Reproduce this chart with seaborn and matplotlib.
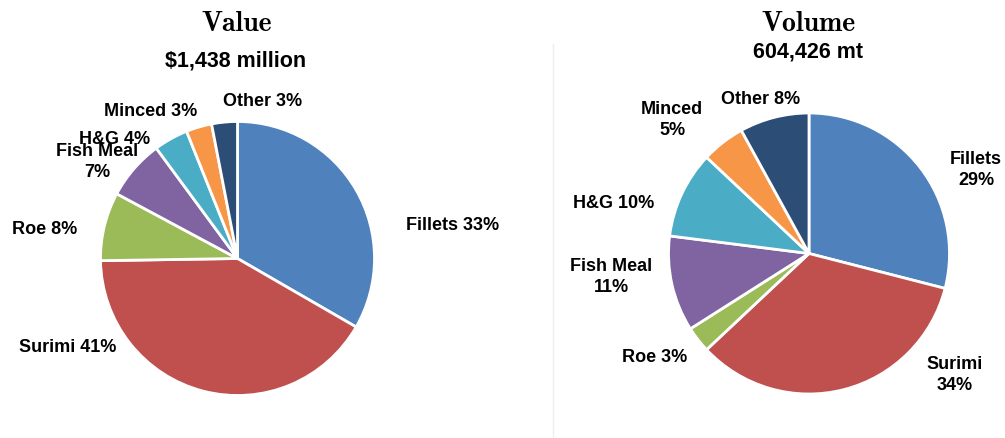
import os
import matplotlib
matplotlib.use("Agg")
import matplotlib.pyplot as plt
from matplotlib.font_manager import FontProperties
import seaborn as sns

# Product shares of the fishery, by first-wholesale value and by volume
categories = ["Fillets", "Surimi", "Roe", "Fish Meal", "H&G", "Minced", "Other"]
value_share = [33, 41, 8, 7, 4, 3, 3]
volume_share = [29, 34, 3, 11, 10, 5, 8]

value_total = "$1,438 million"
volume_total = "604,426 mt"

sns.set_theme(style="white")
plt.rcParams["font.family"] = ["Liberation Sans", "DejaVu Sans"]
plt.rcParams["text.color"] = "black"

palette = sns.color_palette(["#4F81BD", "#C0504D", "#9BBB59", "#8064A2",
                             "#4BACC6", "#F79646", "#2C4D75"])

title_font = FontProperties(
    fname=os.path.join(matplotlib.get_data_path(), "fonts", "ttf", "cmb10.ttf"),
    size=20)

W, H = 1005, 438
fig = plt.figure(figsize=(W / 100, H / 100), dpi=100)
ax = fig.add_axes([0, 0, 1, 1])

wedge_style = dict(edgecolor="white", linewidth=2)

# y axis runs downward, so counterclock=True draws clockwise from 12 o'clock
ax.pie(value_share, colors=palette, center=(237.5, 258.5), radius=137,
       startangle=270, counterclock=True, wedgeprops=wedge_style)
ax.pie(volume_share, colors=palette, center=(809, 253.5), radius=140.5,
       startangle=270, counterclock=True, wedgeprops=wedge_style)

ax.set_xlim(0, W)
ax.set_ylim(H, 0)
ax.set_aspect("equal")
ax.axis("off")

# thin divider between the two panels
ax.plot([552.5, 552.5], [44, H], color="#EEEEEE", lw=1)

# titles and totals
ax.text(237, 24, "Value", fontproperties=title_font, ha="center", va="center",
        color="black")
ax.text(808, 24, "Volume", fontproperties=title_font, ha="center", va="center",
        color="black")
ax.text(236, 61, value_total, fontsize=15.5, fontweight="bold",
        ha="center", va="center", color="black")
ax.text(808, 52, volume_total, fontsize=15.5, fontweight="bold",
        ha="center", va="center", color="black")

label_kw = dict(fontsize=13, fontweight="bold", ha="center", va="center",
                linespacing=1.3, color="black")

# slice labels: left pie
value_label_pos = {
    "Fillets": (453, 225, " "),
    "Surimi": (68, 348, " "),
    "Roe": (45, 229, " "),
    "Fish Meal": (97, 162, "\n"),
    "H&G": (115, 140, " "),
    "Minced": (151, 111, " "),
    "Other": (263, 101, " "),
}
for cat, share in zip(categories, value_share):
    x, y, sep = value_label_pos[cat]
    ax.text(x, y, f"{cat}{sep}{share}%", **label_kw)

# slice labels: right pie
volume_label_pos = {
    "Fillets": (976, 170, "\n"),
    "Surimi": (955, 375, "\n"),
    "Roe": (655, 358, " "),
    "Fish Meal": (611, 277, "\n"),
    "H&G": (614, 203, " "),
    "Minced": (672, 120, "\n"),
    "Other": (761, 99, " "),
}
for cat, share in zip(categories, volume_share):
    x, y, sep = volume_label_pos[cat]
    ax.text(x, y, f"{cat}{sep}{share}%", **label_kw)

fig.savefig("out.png", dpi=100, facecolor="white")
